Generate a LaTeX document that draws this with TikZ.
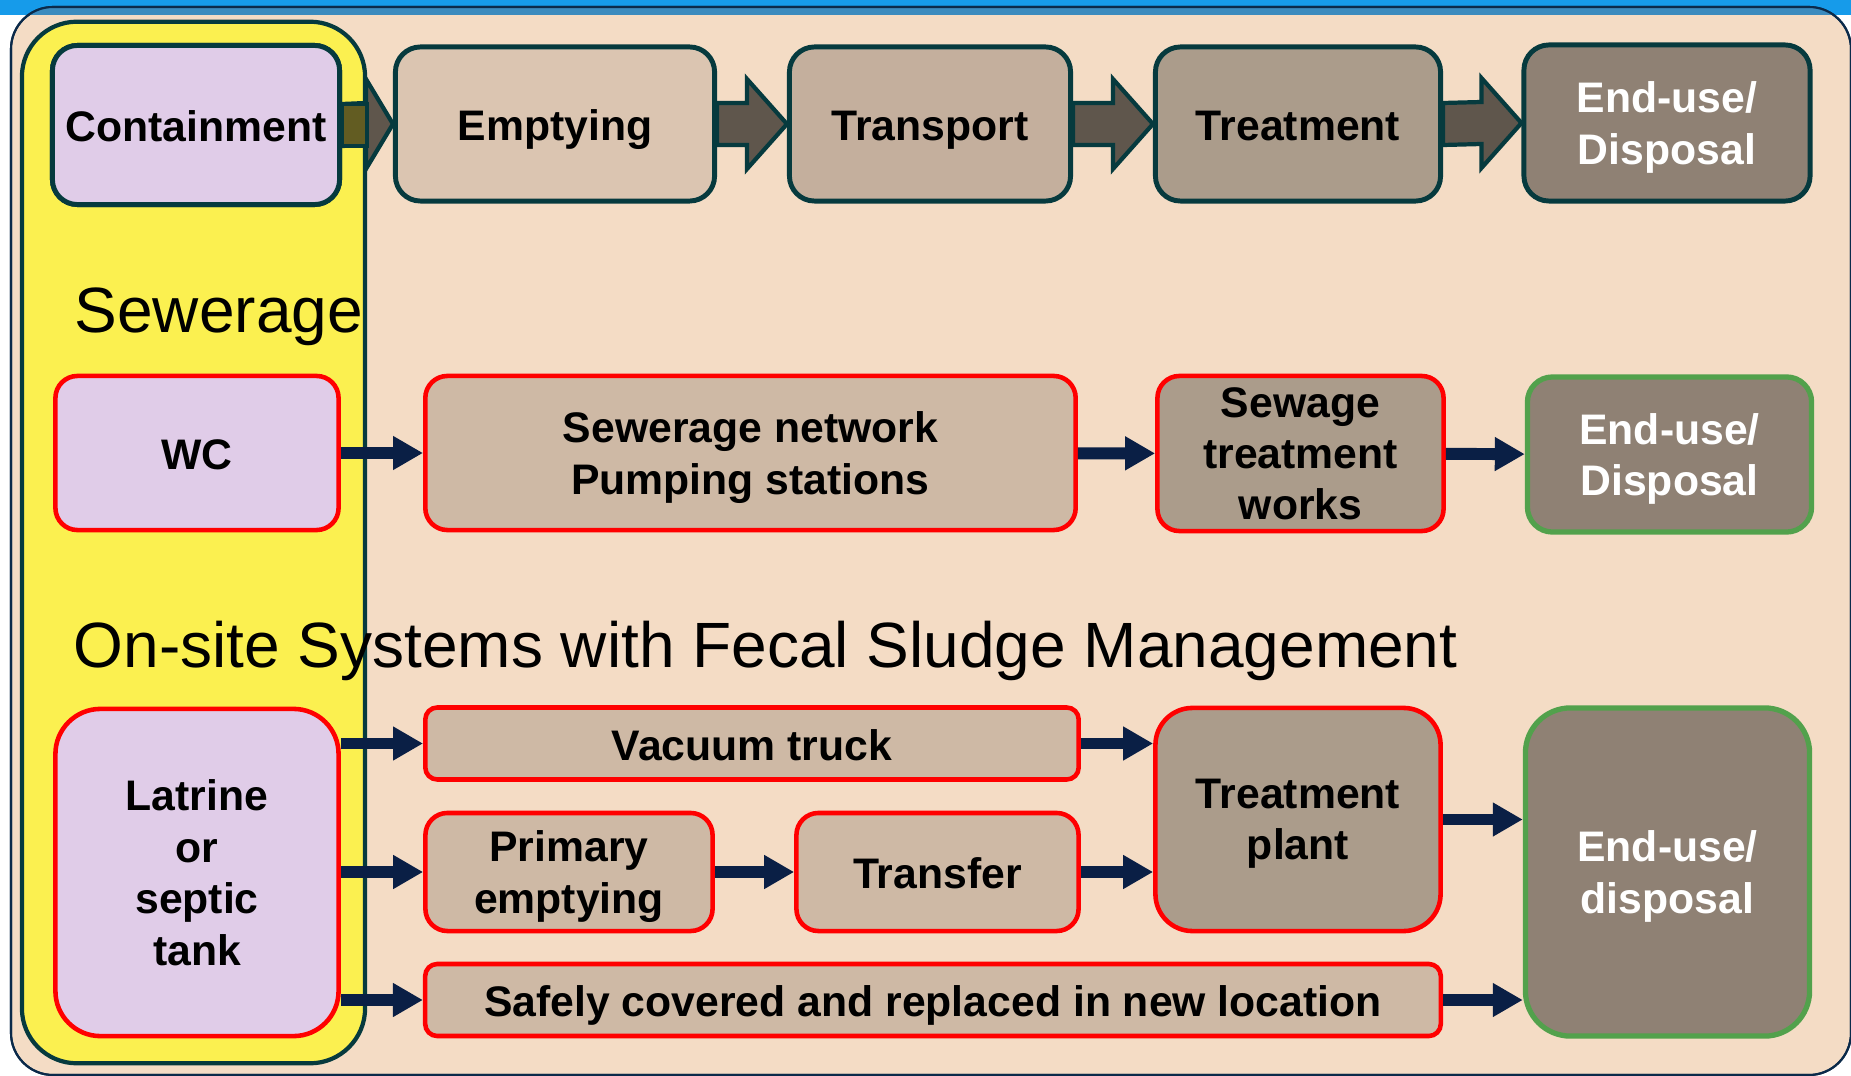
\documentclass[tikz,border=0pt]{standalone}
\usepackage{fontspec}
\setmainfont{Liberation Sans}
\usepackage{xcolor}
\usetikzlibrary{arrows.meta,calc}
\definecolor{bgbeige}{HTML}{F4DCC5}
\definecolor{topblue}{HTML}{169BEA}
\definecolor{steelblue}{HTML}{3B8BBE}
\definecolor{frameblue}{HTML}{0B2A4A}
\definecolor{zoneyellow}{HTML}{FBF050}
\definecolor{lavender}{HTML}{E0CCE8}
\definecolor{tealline}{HTML}{063A3E}
\definecolor{fillA}{HTML}{DBC5B1}
\definecolor{fillB}{HTML}{C4AF9D}
\definecolor{fillC}{HTML}{AB9C8B}
\definecolor{fillD}{HTML}{8F8174}
\definecolor{fillS}{HTML}{CEB9A5}
\definecolor{blockbody}{HTML}{5F564C}
\definecolor{olivebody}{HTML}{625C22}
\definecolor{redline}{HTML}{FF0000}
\definecolor{greenline}{HTML}{52A14C}
\definecolor{navyarrow}{HTML}{0A1F45}
\newcommand{\boxfont}{\fontsize{12.15}{14.6}\selectfont\bfseries}
\newcommand{\headfont}{\fontsize{18.2}{21}\selectfont}
\newcommand{\linestrut}{\rule[-3pt]{0pt}{15.6pt}}
% block arrow: [head length]{from}{to}{fill}
\newcommand{\blockarrow}[4][40]{
    \draw[blockline, fill=#4] ($(#2.east)+(0,-21)$) -- ($(#3.west)+(-#1,-21)$) -- ($(#3.west)+(-#1,-45)$)
        -- (#3.west) -- ($(#3.west)+(-#1,45)$) -- ($(#3.west)+(-#1,21)$) -- ($(#2.east)+(0,21)$) -- cycle;
}
\tikzset{
    stage/.style={draw=tealline, line width=1.4pt, rounded corners=0.25cm, font=\boxfont, align=center, inner sep=0pt,
        execute at begin node=\linestrut, execute at end node=\linestrut},
    multi/.style={text depth=-1pt},
    redbox/.style={stage, draw=redline, line width=1.3pt, rounded corners=0.22cm},
    greenbox/.style={stage, draw=greenline, line width=1.5pt, text=white, fill=fillD},
    flow/.style={draw=navyarrow, line width=3.4pt, -{Triangle[length=0.3cm,width=0.32cm]}},
    blockline/.style={draw=tealline, line width=1.2pt, line join=miter},
    heading/.style={font=\headfont, anchor=base west, inner sep=0pt}
}

\begin{document}
\begin{tikzpicture}[x=0.01cm, y=-0.01cm]
\useasboundingbox (0,0) rectangle (1851,1076);
\clip (0,0) rectangle (1851,1076);
% frame and panel
\fill[white] (0,0) rectangle (1851,1076);
\fill[topblue] (0,0) rectangle (1851,15);
\draw[frameblue, line width=0.6pt, fill=bgbeige, rounded corners=0.42cm] (11,7) rectangle (1851,1075);
\begin{scope}
    \clip[rounded corners=0.42cm] (11,7) rectangle (1851,1075);
    \fill[steelblue] (0,7) rectangle (1851,15);
\end{scope}
\draw[frameblue, line width=0.6pt, rounded corners=0.42cm] (11,7) rectangle (1851,1075);
\node[draw=tealline, line width=1.2pt, fill=zoneyellow, rounded corners=0.55cm, minimum width=3.43cm, minimum height=10.41cm, inner sep=0pt] (zone) at (193.5,542.5) {};

% headings
\node[heading] (hsew) at (74,333) {Sewerage};
\node[heading] (honsite) at (73,667) {On-site Systems with Fecal Sludge Management};

% top chain
\node[stage, fill=lavender, minimum width=2.87cm, minimum height=1.59cm] (cont) at (196,125) {Containment};
\node[stage, fill=fillA, minimum width=3.19cm, minimum height=1.54cm] (emp) at (555,124) {Emptying};
\node[stage, fill=fillB, minimum width=2.81cm, minimum height=1.54cm] (trans) at (930,124) {Transport};
\node[stage, fill=fillC, minimum width=2.85cm, minimum height=1.54cm] (treat) at (1298,124) {Treatment};
\node[stage, multi, fill=fillD, text=white, minimum width=2.86cm, minimum height=1.56cm] (endtop) at (1667,123) {End-use/\\Disposal};
\blockarrow[27]{cont}{emp}{blockbody}
\draw[blockline, fill=olivebody] ($(cont.east)+(0,-21)$) rectangle ($(cont.east -| zone.east)+(0,21)$);
\blockarrow{emp}{trans}{blockbody}
\blockarrow{trans}{treat}{blockbody}
\blockarrow{treat}{endtop}{blockbody}
\node[stage, fill=lavender, minimum width=2.87cm, minimum height=1.59cm] at (cont) {Containment};

% sewerage row
\node[redbox, fill=lavender, minimum width=2.83cm, minimum height=1.54cm] (wc) at (197,453) {WC};
\node[redbox, multi, fill=fillS, minimum width=6.5cm, minimum height=1.54cm] (net) at (750.5,453) {Sewerage network\\Pumping stations};
\node[redbox, multi, fill=fillC, minimum width=2.86cm, minimum height=1.55cm] (stw) at (1300.5,453.5) {Sewage\\treatment\\works};
\node[greenbox, multi, minimum width=2.84cm, minimum height=1.55cm] (endsew) at (1669.5,454.5) {End-use/\\Disposal};
\draw[flow] (wc) -- (net);
\draw[flow] (net) -- (stw);
\draw[flow] (stw) -- (endsew);

% on-site row
\node[redbox, multi, fill=lavender, rounded corners=0.45cm, minimum width=2.83cm, minimum height=3.27cm] (lat) at (197,872.5) {Latrine\\or\\septic\\tank};
\node[redbox, fill=fillS, rounded corners=0.12cm, minimum width=6.53cm, minimum height=0.72cm] (vac) at (752,743.5) {Vacuum truck};
\node[redbox, multi, fill=fillS, minimum width=2.87cm, minimum height=1.18cm] (prim) at (569,872) {Primary\\emptying};
\node[redbox, fill=fillS, minimum width=2.82cm, minimum height=1.18cm] (transf) at (937.5,872) {Transfer};
\node[redbox, multi, fill=fillC, rounded corners=0.37cm, minimum width=2.85cm, minimum height=2.23cm] (tplant) at (1298,819.5) {Treatment\\plant};
\node[redbox, fill=fillS, rounded corners=0.12cm, minimum width=10.15cm, minimum height=0.72cm] (safe) at (933,1000) {Safely covered and replaced in new location};
\node[greenbox, multi, rounded corners=0.45cm, minimum width=2.84cm, minimum height=3.28cm] (endfs) at (1667.5,872) {End-use/\\disposal};
\draw[flow] (vac.west -| lat.east) -- (vac.west);
\draw[flow] (prim.west -| lat.east) -- (prim.west);
\draw[flow] (safe.west -| lat.east) -- (safe.west);
\draw[flow] (vac) -- (vac -| tplant.west);
\draw[flow] (prim) -- (transf);
\draw[flow] (transf) -- (transf -| tplant.west);
\draw[flow] (tplant) -- (tplant -| endfs.west);
\draw[flow] (safe) -- (safe -| endfs.west);
\end{tikzpicture}
\end{document}
